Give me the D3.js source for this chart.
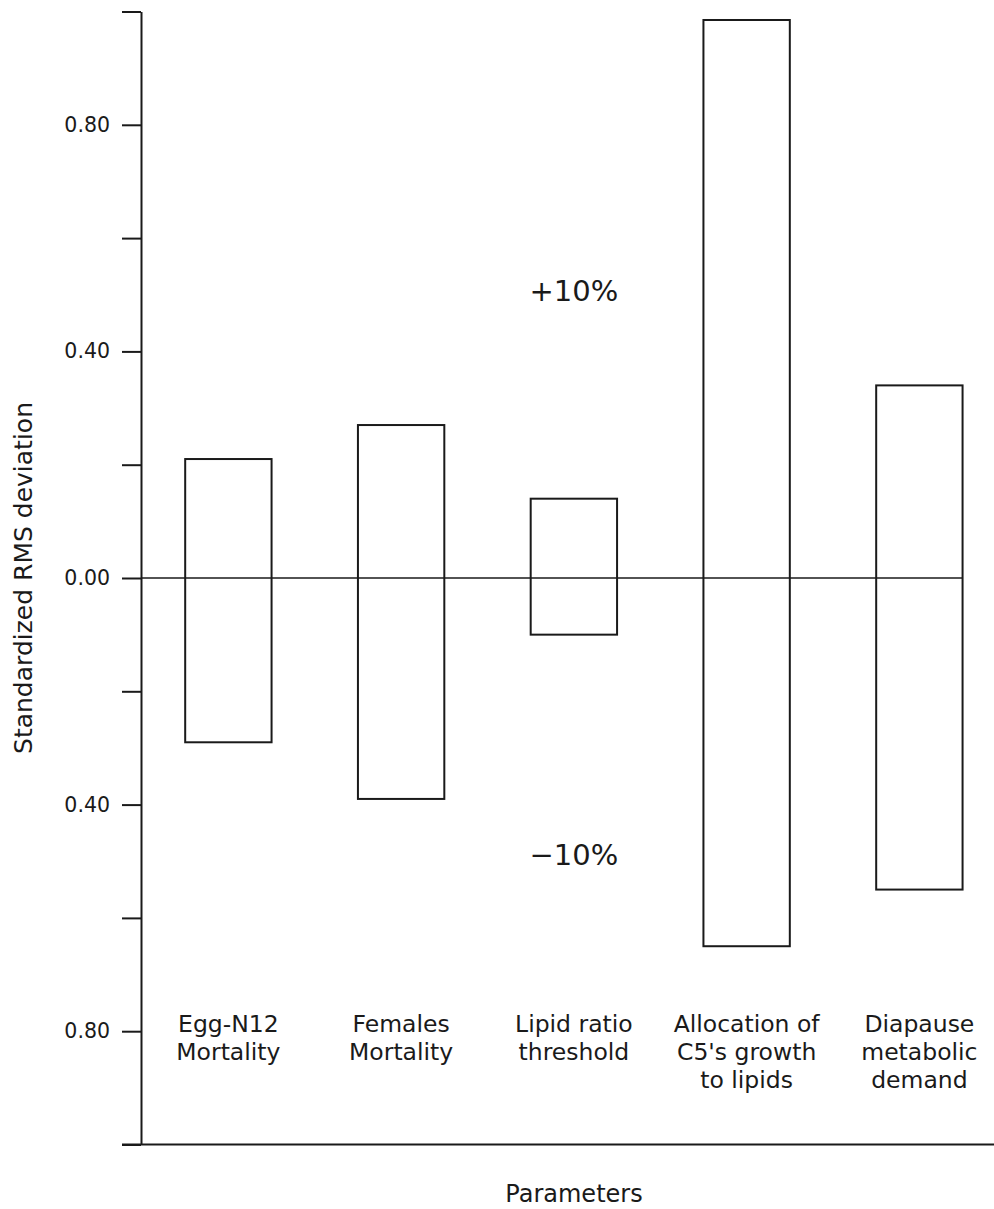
<!DOCTYPE html>
<html>
<head>
<meta charset="utf-8">
<script src="https://cdn.jsdelivr.net/npm/d3@7"></script>
<style>
  body { margin: 0; background: #fff; }
  svg text { font-family: "DejaVu Sans", sans-serif; fill: #1a1a1a; }
</style>
</head>
<body>
<div id="chart"></div>
<script>
// parameters tested in the sensitivity run
var categories = ["Egg-N12 Mortality", "Females Mortality", "Lipid ratio threshold",
                  "Allocation of C5's growth to lipids", "Diapause metabolic demand"];
var categoryLines = [["Egg-N12", "Mortality"], ["Females", "Mortality"], ["Lipid ratio", "threshold"],
                     ["Allocation of", "C5's growth", "to lipids"], ["Diapause", "metabolic", "demand"]];
// standardized RMS deviation for +10% and -10% change
var plus10 = [0.21, 0.27, 0.14, 0.985, 0.34];
var minus10 = [-0.29, -0.39, -0.10, -0.65, -0.55];
var yTicks = [-1.0, -0.8, -0.6, -0.4, -0.2, 0, 0.2, 0.4, 0.6, 0.8, 1.0];
var yLabelled = [-0.8, -0.4, 0, 0.4, 0.8];
var notes = [{text: "+10%", value: 0.495}, {text: "\u221210%", value: -0.502}];

var width = 994, height = 1209;
var axisX = 141, plotTop = 11.5, plotBottom = 1144.5;

var svg = d3.select("#chart").append("svg")
    .attr("width", width)
    .attr("height", height);

var y = d3.scaleLinear().domain([-1, 1]).range([plotBottom, plotTop]);
var x = d3.scaleBand().domain(categories)
    .range([axisX + 1, axisX + 1 + 5 * 172.75])
    .paddingInner(0.5).paddingOuter(0.25);

// y axis
var yAxis = d3.axisLeft(y)
    .tickValues(yTicks)
    .tickSize(19)
    .tickSizeOuter(0)
    .tickPadding(12)
    .tickFormat(function(d) {
        var hit = yLabelled.some(function(v) { return Math.abs(v - d) < 1e-9; });
        return hit ? d3.format(".2f")(Math.abs(d)) : "";
    });

var gy = svg.append("g")
    .attr("transform", "translate(" + axisX + ",0)")
    .call(yAxis);
gy.select(".domain").attr("stroke", "#1a1a1a").attr("stroke-width", 2);
gy.selectAll(".tick line").attr("stroke", "#1a1a1a").attr("stroke-width", 2);
gy.selectAll(".tick text")
    .attr("font-size", 20.5)
    .attr("font-family", "DejaVu Sans, sans-serif")
    .attr("fill", "#1a1a1a");

// bottom axis line
svg.append("line")
    .attr("x1", axisX - 19).attr("x2", width)
    .attr("y1", y(-1)).attr("y2", y(-1))
    .attr("stroke", "#1a1a1a").attr("stroke-width", 2);

// bars
svg.selectAll("rect.bar")
    .data(categories)
    .enter().append("rect")
    .attr("class", "bar")
    .attr("x", function(d) { return x(d); })
    .attr("width", x.bandwidth())
    .attr("y", function(d, i) { return y(plus10[i]); })
    .attr("height", function(d, i) { return y(minus10[i]) - y(plus10[i]); })
    .attr("fill", "none")
    .attr("stroke", "#1a1a1a")
    .attr("stroke-width", 2);

// zero line
svg.append("line")
    .attr("x1", axisX).attr("x2", x(categories[4]) + x.bandwidth())
    .attr("y1", y(0)).attr("y2", y(0))
    .attr("stroke", "#1a1a1a").attr("stroke-width", 1.5);

// category labels inside the plot
var lab = svg.selectAll("text.cat")
    .data(categories)
    .enter().append("text")
    .attr("class", "cat")
    .attr("text-anchor", "middle")
    .attr("font-size", 23.5)
    .attr("x", function(d) { return x(d) + x.bandwidth() / 2; })
    .attr("y", 1032);
lab.selectAll("tspan")
    .data(function(d, i) { return categoryLines[i]; })
    .enter().append("tspan")
    .attr("x", function() { return d3.select(this.parentNode).attr("x"); })
    .attr("dy", function(d, i) { return i === 0 ? 0 : 28; })
    .text(function(d) { return d; });

// +10% / -10% notes
svg.selectAll("text.note")
    .data(notes)
    .enter().append("text")
    .attr("class", "note")
    .attr("text-anchor", "middle")
    .attr("font-size", 29)
    .attr("x", x(categories[2]) + x.bandwidth() / 2)
    .attr("y", function(d) { return y(d.value) + 3; })
    .text(function(d) { return d.text; });

// axis titles
svg.append("text")
    .attr("text-anchor", "middle")
    .attr("font-size", 24)
    .attr("x", 574)
    .attr("y", 1202)
    .text("Parameters");

svg.append("text")
    .attr("text-anchor", "middle")
    .attr("font-size", 25)
    .attr("transform", "translate(32," + y(0) + ") rotate(-90)")
    .text("Standardized RMS deviation");
</script>
</body>
</html>
